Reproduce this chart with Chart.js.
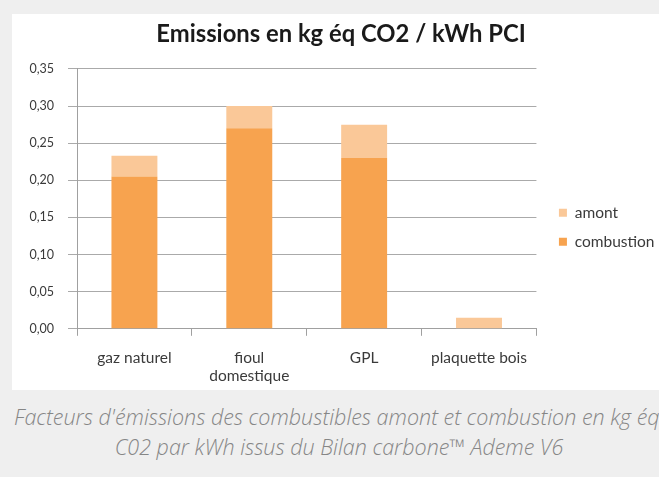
<!DOCTYPE html>
<html>
<head>
<meta charset="utf-8">
<script src="https://cdn.jsdelivr.net/npm/chart.js@4"></script>
<style>
  html, body { margin: 0; padding: 0; }
  body { width: 659px; height: 477px; background: #efefef; overflow: hidden; position: relative; }
  #panel { position: absolute; left: 12px; top: 14px; width: 660px; height: 376px; background: #fff; }
  #chart { position: absolute; left: 0; top: 0; }
  .caption { position: absolute; white-space: nowrap; font-family: "Open Sans", sans-serif; font-style: italic;
             font-weight: 300; font-size: 21.5px; line-height: 30px; color: #868686; }
  #cap1 { left: 14px; top: 402px; }
  #cap2 { left: 0; width: 678px; text-align: center; top: 432px; }
</style>
</head>
<body>
<div id="panel"><canvas id="chart" width="660" height="384"></canvas></div>
<div class="caption" id="cap1">Facteurs d'émissions des combustibles amont et combustion en kg éq</div>
<div class="caption" id="cap2">C02 par kWh issus du Bilan carbone™ Ademe V6</div>
<script>
const categories = ['gaz naturel', ['fioul', 'domestique'], 'GPL', 'plaquette bois'];
const combustion = [0.205, 0.270, 0.230, 0];
const amont = [0.028, 0.030, 0.045, 0.015];
const yTickLabels = ['0,00', '0,05', '0,10', '0,15', '0,20', '0,25', '0,30', '0,35'];

const ctx = document.getElementById('chart').getContext('2d');
new Chart(ctx, {
    type: 'bar',
    data: {
        labels: categories,
        datasets: [
            {
                label: 'combustion',
                backgroundColor: '#f7a34f',
                data: combustion
            },
            {
                label: 'amont',
                backgroundColor: '#fac898',
                data: amont
            }
        ]
    },
    options: {
        responsive: false,
        animation: false,
        layout: { padding: { left: 5.5, right: 7.5, top: 0, bottom: 0 } },
        datasets: { bar: { barPercentage: 0.4, categoryPercentage: 1 } },
        plugins: {
            title: {
                display: true,
                text: 'Emissions en kg éq CO2 / kWh PCI',
                color: '#1a1a1a',
                font: { family: 'Lato', size: 23.8, weight: 'bold' },
                padding: { top: 5.6, bottom: 20.8 }
            },
            legend: {
                position: 'right',
                reverse: true,
                maxWidth: 200,
                // empty title only pushes the two items a bit lower
                title: { display: true, text: '', padding: { top: 0, bottom: 28 } },
                labels: {
                    boxWidth: 8,
                    boxHeight: 8,
                    padding: 13.5,
                    color: '#3a3a3a',
                    font: { family: 'Lato', size: 15.5 }
                }
            },
            tooltip: { enabled: false }
        },
        scales: {
            x: {
                stacked: true,
                grid: { offset: true, drawOnChartArea: false, drawTicks: true, tickLength: 7, color: '#a0a0a0' },
                border: { color: '#a0a0a0' },
                ticks: { color: '#3a3a3a', padding: 12.5, font: { family: 'Lato', size: 15.5 }, maxRotation: 0 }
            },
            y: {
                stacked: true,
                min: 0,
                max: 0.35,
                grid: { color: '#aaaaaa', tickLength: 9 },
                border: { color: '#a0a0a0' },
                ticks: {
                    stepSize: 0.05,
                    padding: 14,
                    color: '#3a3a3a',
                    font: { family: 'Lato', size: 12.5 },
                    callback: function (value, index) { return yTickLabels[index]; }
                },
                afterFit: function (scale) { scale.width = 59.5; }
            },
            // empty axis, only keeps a gap between the plot and the legend
            gap: {
                type: 'linear',
                position: 'right',
                grid: { display: false },
                border: { display: false },
                ticks: { display: false },
                afterFit: function (scale) { scale.width = 9; }
            }
        }
    }
});
</script>
</body>
</html>
